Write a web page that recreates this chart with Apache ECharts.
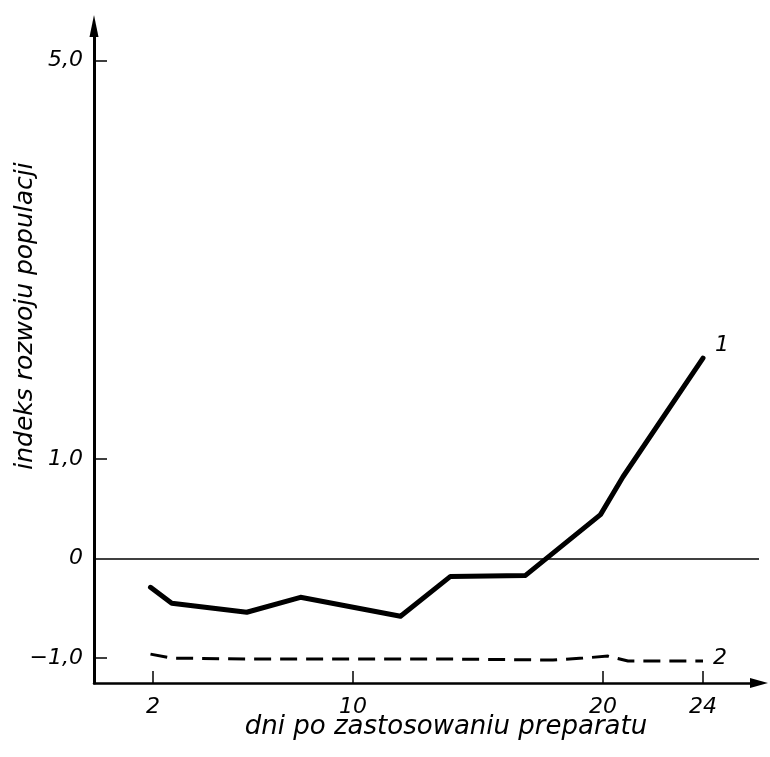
<!DOCTYPE html>
<html>
<head>
<meta charset="utf-8">
<script src="https://cdn.jsdelivr.net/npm/echarts@6/dist/echarts.min.js"></script>
<style>html,body{margin:0;padding:0;background:#fff}#c{width:770px;height:757px}</style>
</head>
<body>
<div id="c"></div>
<script>
const xTicks = [2, 10, 20, 24];
const yTicks = [-1, 0, 1, 5];
const yTickMarks = [-1, 1, 5];
const days1 = [1.9, 2.75, 5.75, 7.9, 11.9, 13.9, 16.9, 19.9, 20.8, 24.0];
const series1 = [-0.29, -0.45, -0.54, -0.39, -0.58, -0.18, -0.17, 0.44, 0.82, 2.01];
const days2 = [1.9, 2.75, 6, 10, 14, 18, 19.2, 20.2, 21, 24];
const series2 = [-0.96, -1.0, -1.01, -1.01, -1.01, -1.02, -1.0, -0.98, -1.03, -1.03];
const xTitle = 'dni po zastosowaniu preparatu';
const yTitle = 'indeks rozwoju populacji';
const seriesNames = ['1', '2'];

const FONT = '"DejaVu Sans", sans-serif';
const chart = echarts.init(document.getElementById('c'), null, {renderer: 'canvas'});
const fmt = v => v === 0 ? '0' : (v < 0 ? '\u2212' : '') + Math.abs(v).toFixed(1).replace('.', ',');

chart.setOption({
  animation: false,
  backgroundColor: '#fff',
  grid: {left: 94, right: 11, top: 26, bottom: 74, containLabel: false},
  xAxis: {
    type: 'value', min: -0.36, max: 26.24,
    splitLine: {show: false},
    axisLine: {show: true, onZero: false, symbol: ['none', 'triangle'], symbolSize: [10, 18],
      lineStyle: {color: '#000', width: 2.5}},
    axisTick: {show: true, inside: true, length: 12, customValues: xTicks, lineStyle: {color: '#000', width: 1.5}},
    axisLabel: {show: true, customValues: xTicks, margin: 13, color: '#000',
      fontFamily: FONT, fontStyle: 'italic', fontSize: 22}
  },
  yAxis: {
    type: 'value', min: -1.25, max: 5.344,
    splitLine: {show: false},
    axisLine: {show: true, onZero: false, symbol: ['none', 'triangle'], symbolSize: [9, 22],
      lineStyle: {color: '#000', width: 3}},
    axisTick: {show: true, inside: true, length: 13, customValues: yTickMarks, lineStyle: {color: '#000', width: 1.5}},
    axisLabel: {show: true, customValues: yTicks, margin: 11, color: '#000',
      fontFamily: FONT, fontStyle: 'italic', fontSize: 22, formatter: fmt}
  },
  graphic: [
    {type: 'text', x: 446, y: 727, style: {text: xTitle, fill: '#000',
      font: 'italic 26px ' + FONT, textAlign: 'center', textVerticalAlign: 'middle'}},
    {type: 'text', x: 25, y: 316, rotation: Math.PI / 2, style: {text: yTitle, fill: '#000',
      font: 'italic 25px ' + FONT, textAlign: 'center', textVerticalAlign: 'middle'}}
  ],
  series: [
    {
      name: seriesNames[0], type: 'line', showSymbol: false, symbol: 'none',
      data: days1.map((d, i) => [d, series1[i]]),
      lineStyle: {color: '#000', width: 5, join: 'round', cap: 'round'},
      endLabel: {show: true, formatter: seriesNames[0], color: '#000', fontFamily: FONT,
        fontStyle: 'italic', fontSize: 22, offset: [4, -13]},
      markLine: {silent: true, symbol: ['none', 'none'], label: {show: false},
        lineStyle: {color: '#000', width: 1.5, type: 'solid'}, data: [{yAxis: 0}]}
    },
    {
      name: seriesNames[1], type: 'line', showSymbol: false, symbol: 'none',
      data: days2.map((d, i) => [d, series2[i]]),
      lineStyle: {color: '#000', width: 3, type: [17, 9]},
      endLabel: {show: true, formatter: seriesNames[1], color: '#000', fontFamily: FONT,
        fontStyle: 'italic', fontSize: 22, offset: [2, -3]}
    }
  ]
});
</script>
</body>
</html>
